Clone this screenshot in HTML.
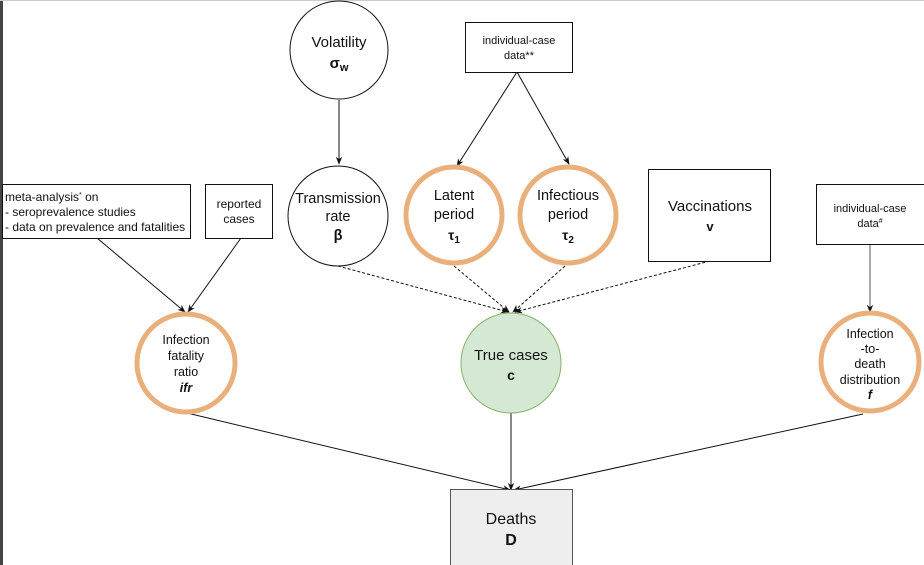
<!DOCTYPE html>
<html><head><style>
html,body{margin:0;padding:0;background:#fff;}
svg{display:block;}
text{font-family:"Liberation Sans",Arial,sans-serif;fill:#111;}
</style></head><body>
<svg width="924" height="565" viewBox="0 0 924 565" xmlns="http://www.w3.org/2000/svg">
<defs>
<marker id="a" viewBox="0 0 10 10" refX="9" refY="5" markerWidth="8" markerHeight="8" orient="auto"><path d="M0,1 L10,5 L0,9 L3,5 Z" fill="#111"/></marker>
</defs>
<rect x="0" y="0" width="3" height="565" fill="#444"/>
<line x1="0" y1="0.5" x2="924" y2="0.5" stroke="#ccc"/>

<!-- connectors -->
<g stroke="#111" stroke-width="1" fill="none">
<line x1="339" y1="100" x2="339" y2="164" marker-end="url(#a)"/>
<line x1="517" y1="72" x2="457" y2="166" marker-end="url(#a)"/>
<line x1="517" y1="72" x2="569" y2="164" marker-end="url(#a)"/>
<line x1="97" y1="238" x2="185" y2="312" marker-end="url(#a)"/>
<line x1="241" y1="238" x2="188" y2="312" marker-end="url(#a)"/>
<line x1="870" y1="245" x2="870" y2="312" stroke="#555" marker-end="url(#a)"/>
<line x1="187" y1="413" x2="510" y2="490" marker-end="url(#a)"/>
<line x1="511" y1="413" x2="511" y2="490" marker-end="url(#a)"/>
<line x1="863" y1="414" x2="514" y2="490" marker-end="url(#a)"/>
<g stroke-dasharray="3,2">
<line x1="338" y1="266" x2="508" y2="312" marker-end="url(#a)"/>
<line x1="454" y1="266" x2="509" y2="312" marker-end="url(#a)"/>
<line x1="565" y1="266" x2="513" y2="312" marker-end="url(#a)"/>
<line x1="710" y1="261" x2="515" y2="312" marker-end="url(#a)"/>
</g>
</g>

<!-- nodes -->
<circle cx="339" cy="50" r="49" fill="#fff" stroke="#111"/>
<text x="339" y="47" font-size="15" text-anchor="middle">Volatility</text>
<text x="339" y="68" font-size="15" font-weight="bold" text-anchor="middle">σ<tspan font-size="11" dy="3">w</tspan></text>

<circle cx="338" cy="216" r="50" fill="#fff" stroke="#111"/>
<text x="338" y="203" font-size="14.5" text-anchor="middle">Transmission</text>
<text x="338" y="221" font-size="14.5" text-anchor="middle">rate</text>
<text x="338" y="240" font-size="14.5" font-weight="bold" text-anchor="middle">β</text>

<rect x="465.5" y="22.5" width="107" height="50" fill="#fff" stroke="#111"/>
<text x="519" y="44" font-size="11" text-anchor="middle">individual-case</text>
<text x="519" y="59" font-size="11" text-anchor="middle">data**</text>

<circle cx="454" cy="215" r="48" fill="#fff" stroke="#e9b07c" stroke-width="5"/>
<text x="454" y="200" font-size="14.5" text-anchor="middle">Latent</text>
<text x="454" y="219" font-size="14.5" text-anchor="middle">period</text>
<text x="454" y="240" font-size="14" font-weight="bold" text-anchor="middle">τ<tspan font-size="10" dy="3">1</tspan></text>

<circle cx="568" cy="215" r="48" fill="#fff" stroke="#e9b07c" stroke-width="5"/>
<text x="568" y="200" font-size="14.5" text-anchor="middle">Infectious</text>
<text x="568" y="219" font-size="14.5" text-anchor="middle">period</text>
<text x="568" y="240" font-size="14" font-weight="bold" text-anchor="middle">τ<tspan font-size="10" dy="3">2</tspan></text>

<rect x="648.5" y="169.5" width="122" height="92" fill="#fff" stroke="#111"/>
<text x="710" y="211" font-size="15" text-anchor="middle">Vaccinations</text>
<text x="710" y="231" font-size="13" font-weight="bold" text-anchor="middle">v</text>

<rect x="816.5" y="184.5" width="110" height="60" fill="#fff" stroke="#111"/>
<text x="870" y="212" font-size="11" text-anchor="middle">individual-case</text>
<text x="870" y="227" font-size="11" text-anchor="middle">data<tspan font-size="7" dy="-4">#</tspan></text>

<rect x="2.5" y="184.5" width="188" height="54" fill="#fff" stroke="#111"/>
<text x="5" y="201" font-size="12">meta-analysis<tspan font-size="7" dy="-4">*</tspan><tspan dy="4"> on</tspan></text>
<text x="5" y="216" font-size="12">- seroprevalence studies</text>
<text x="5" y="231" font-size="12">- data on prevalence and fatalities</text>

<rect x="205.5" y="184.5" width="67" height="54" fill="#fff" stroke="#111"/>
<text x="239" y="208" font-size="12" text-anchor="middle">reported</text>
<text x="239" y="223" font-size="12" text-anchor="middle">cases</text>

<circle cx="186" cy="363" r="49" fill="#fff" stroke="#e9b07c" stroke-width="5"/>
<text x="186" y="344" font-size="12.5" text-anchor="middle">Infection</text>
<text x="186" y="360" font-size="12.5" text-anchor="middle">fatality</text>
<text x="186" y="376" font-size="12.5" text-anchor="middle">ratio</text>
<text x="186" y="392" font-size="12.5" font-weight="bold" font-style="italic" text-anchor="middle">ifr</text>

<circle cx="511" cy="363" r="50" fill="#d5e8d4" stroke="#82b366"/>
<text x="511" y="360" font-size="15" text-anchor="middle">True cases</text>
<text x="511" y="380" font-size="14" font-weight="bold" text-anchor="middle">c</text>

<circle cx="870" cy="362" r="49" fill="#fff" stroke="#e9b07c" stroke-width="5"/>
<text x="870" y="338" font-size="12.5" text-anchor="middle">Infection</text>
<text x="870" y="353" font-size="12.5" text-anchor="middle">-to-</text>
<text x="870" y="368" font-size="12.5" text-anchor="middle">death</text>
<text x="870" y="384" font-size="12.5" text-anchor="middle">distribution</text>
<text x="870" y="399" font-size="12.5" font-weight="bold" font-style="italic" text-anchor="middle">f</text>

<rect x="450.5" y="489.5" width="122" height="80" fill="#eeeeee" stroke="#555"/>
<text x="511" y="524" font-size="16" text-anchor="middle">Deaths</text>
<text x="511" y="545" font-size="16" font-weight="bold" text-anchor="middle">D</text>
</svg>
</body></html>
